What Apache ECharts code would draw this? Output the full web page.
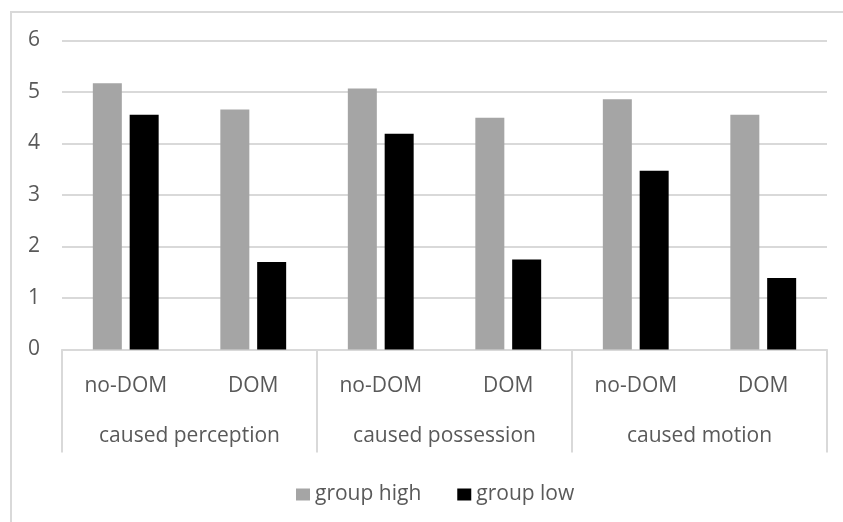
<!DOCTYPE html>
<html>
<head>
<meta charset="utf-8">
<script src="https://cdn.jsdelivr.net/npm/echarts@6/dist/echarts.min.js"></script>
<style>
  html, body { margin: 0; padding: 0; background: #fff; }
  #chart { width: 843px; height: 522px; }
</style>
</head>
<body>
<div id="chart"></div>
<script>
// Sub-categories (inner axis level) and their parent groups (outer level)
const subCategories = ['no-DOM', 'DOM', 'no-DOM', 'DOM', 'no-DOM', 'DOM'];
const groupCategories = ['caused perception', 'caused possession', 'caused motion'];

// Mean scores per series
const groupHigh = [5.17, 4.66, 5.07, 4.50, 4.86, 4.56];
const groupLow = [4.56, 1.70, 4.19, 1.75, 3.47, 1.39];

const yTicks = { min: 0, max: 6, interval: 1 };

const TEXT = '#595959';
const LINE = '#d9d9d9';
const FONT = 'Open Sans';
const FS = 21;

const chart = echarts.init(document.getElementById('chart'), null, { renderer: 'canvas' });

chart.setOption({
  backgroundColor: '#ffffff',
  animation: false,
  textStyle: { fontFamily: FONT, color: TEXT },
  graphic: [{
    type: 'rect',
    shape: { x: 11, y: 12, width: 900, height: 600 },
    style: { fill: 'none', stroke: LINE, lineWidth: 2 },
    silent: true,
    z: -1
  }],
  grid: { left: 62, right: 16, top: 40.5, bottom: 172.5, containLabel: false },
  legend: {
    left: 291,
    top: 479,
    itemWidth: 14,
    itemHeight: 12,
    itemGap: 36,
    icon: 'rect',
    textStyle: { fontFamily: FONT, fontSize: FS, color: TEXT, padding: [0, 0, 0, 0] },
    data: ['group high', 'group low']
  },
  xAxis: [{
    type: 'category',
    data: subCategories,
    position: 'bottom',
    axisLine: { show: true, lineStyle: { color: LINE, width: 2 } },
    axisTick: { show: false },
    axisLabel: { color: TEXT, fontFamily: FONT, fontSize: FS, margin: 26, interval: 0 },
    splitLine: { show: false }
  }, {
    type: 'category',
    data: groupCategories,
    position: 'bottom',
    axisLine: { show: false },
    axisTick: { show: true, length: 103, alignWithLabel: false, lineStyle: { color: LINE, width: 2 } },
    axisLabel: { color: TEXT, fontFamily: FONT, fontSize: FS, margin: 76, interval: 0 },
    splitLine: { show: false }
  }],
  yAxis: {
    type: 'value',
    min: yTicks.min,
    max: yTicks.max,
    interval: yTicks.interval,
    axisLine: { show: false },
    axisTick: { show: false },
    axisLabel: { color: TEXT, fontFamily: FONT, fontSize: FS, margin: 22 },
    splitLine: { lineStyle: { color: LINE, width: 2 } }
  },
  series: [{
    name: 'group high',
    type: 'bar',
    xAxisIndex: 0,
    data: groupHigh,
    barWidth: 29,
    barGap: '27%',
    itemStyle: { color: '#a5a5a5' }
  }, {
    name: 'group low',
    type: 'bar',
    xAxisIndex: 0,
    data: groupLow,
    barWidth: 29,
    barGap: '27%',
    itemStyle: { color: '#000000' }
  }]
});
</script>
</body>
</html>
